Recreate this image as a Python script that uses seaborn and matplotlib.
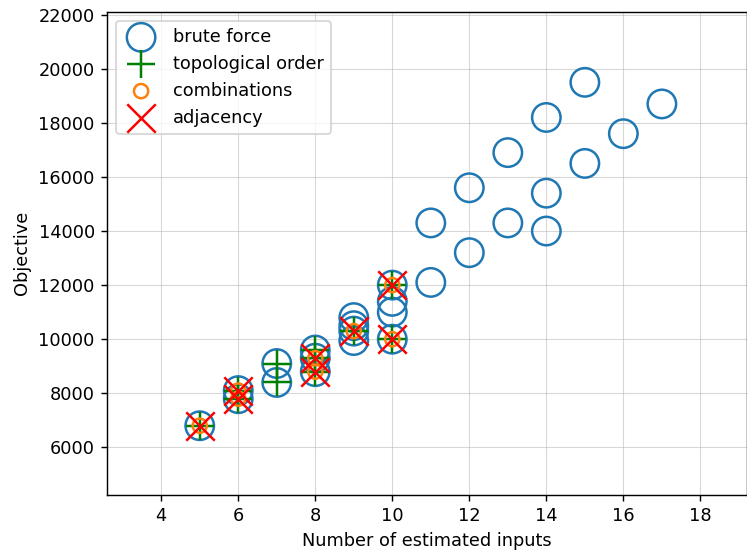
import matplotlib
matplotlib.use("Agg")
import matplotlib.pyplot as plt
import seaborn as sns

# Objective value against number of estimated inputs, per search strategy
brute_x = [5, 6, 6, 7, 7, 8, 8, 8, 9, 9, 9, 9, 10, 10, 10, 10,
           11, 11, 12, 12, 13, 13, 14, 14, 14, 15, 15, 16, 17]
brute_y = [6800, 8100, 7800, 9100, 8400, 9600, 9300, 8800, 10800, 10500, 10300, 9950,
           12000, 11400, 11000, 10000, 14300, 12100, 15600, 13200, 16900, 14300,
           18200, 15400, 14000, 19500, 16500, 17600, 18700]

topo_x = [5, 6, 6, 7, 7, 8, 8, 8, 9, 10, 10]
topo_y = [6800, 8100, 7800, 9100, 8400, 9600, 9300, 8800, 10300, 12000, 10000]

comb_x = [5, 6, 6, 8, 8, 9, 10, 10]
comb_y = [6800, 8100, 7800, 9300, 8800, 10300, 12000, 10000]

adj_x = [5, 6, 6, 8, 8, 9, 10, 10]
adj_y = [6800, 8100, 7800, 9300, 8800, 10300, 12000, 10000]

DPI = 128
fig, ax = plt.subplots(figsize=(747 / DPI, 556 / DPI), dpi=DPI)
fig.subplots_adjust(left=107.3 / 747, right=746.6 / 747,
                    top=1 - 12 / 556, bottom=1 - 494.7 / 556)

big = 16 ** 2
sns.scatterplot(x=brute_x, y=brute_y, ax=ax, marker="o", s=big,
                facecolors="none", edgecolor="#1f77b4", linewidth=1.4,
                label="brute force", zorder=3)
sns.scatterplot(x=topo_x, y=topo_y, ax=ax, marker="+", s=big,
                color="green", linewidth=1.4, label="topological order", zorder=4)
sns.scatterplot(x=comb_x, y=comb_y, ax=ax, marker="o", s=8 ** 2,
                facecolors="none", edgecolor="#ff7f0e", linewidth=1.4,
                label="combinations", zorder=5)
sns.scatterplot(x=adj_x, y=adj_y, ax=ax, marker="x", s=big,
                color="red", linewidth=1.4, label="adjacency", zorder=6)

ax.set_xlim(2.6, 19.2)
ax.set_ylim(4250, 22100)
ax.set_xticks(range(4, 19, 2))
ax.set_yticks(range(6000, 22001, 2000))
ax.set_xlabel("Number of estimated inputs")
ax.set_ylabel("Objective")
ax.grid(True, alpha=0.5, linewidth=0.6)
ax.set_axisbelow(True)

ax.legend(loc="upper left")

fig.savefig("out.png", dpi=DPI)
